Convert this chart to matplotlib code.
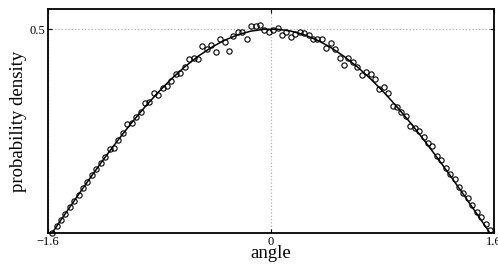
import numpy as np
import matplotlib
matplotlib.use("Agg")
import matplotlib.pyplot as plt

# measured samples (open circles), 100 angles evenly spaced over [-pi/2, pi/2]
sample_y = [
    0.000, 0.016, 0.032, 0.047, 0.064, 0.079, 0.094, 0.111, 0.125, 0.141,
    0.156, 0.171, 0.186, 0.205, 0.208, 0.229, 0.244, 0.267, 0.269, 0.284,
    0.297, 0.319, 0.321, 0.342, 0.338, 0.355, 0.361, 0.373, 0.390, 0.393,
    0.406, 0.426, 0.428, 0.426, 0.458, 0.450, 0.460, 0.443, 0.475, 0.467,
    0.447, 0.483, 0.492, 0.492, 0.476, 0.507, 0.507, 0.510, 0.498, 0.492,
    0.497, 0.503, 0.485, 0.492, 0.480, 0.487, 0.492, 0.490, 0.486, 0.476,
    0.475, 0.476, 0.454, 0.465, 0.450, 0.428, 0.412, 0.428, 0.420, 0.406,
    0.387, 0.395, 0.390, 0.377, 0.353, 0.357, 0.342, 0.311, 0.308, 0.297,
    0.287, 0.262, 0.257, 0.250, 0.236, 0.220, 0.213, 0.189, 0.179, 0.159,
    0.145, 0.132, 0.112, 0.097, 0.085, 0.069, 0.052, 0.040, 0.022, 0.007,
]
sample_x = np.linspace(-np.pi / 2, np.pi / 2, len(sample_y))

# smooth density curve
curve_y = [
    0.0, 0.0475, 0.0946, 0.1409, 0.1858, 0.2290, 0.2703, 0.3091, 0.3450,
    0.3779, 0.4073, 0.4330, 0.4548, 0.4725, 0.4859, 0.4949, 0.4994,
    0.4994, 0.4949, 0.4859, 0.4725, 0.4548, 0.4330, 0.4073, 0.3779,
    0.3450, 0.3091, 0.2703, 0.2290, 0.1858, 0.1409, 0.0946, 0.0475, 0.0,
]
curve_x = np.linspace(-np.pi / 2, np.pi / 2, len(curve_y))

x_ticks = [-1.6, 0, 1.6]
x_tick_labels = ["\u22121.6", "0", "1.6"]
y_ticks = [0.5]
y_tick_labels = ["0.5"]

plt.rcParams["font.family"] = ["Liberation Serif", "DejaVu Serif"]

fig = plt.figure(figsize=(4.98, 2.65), dpi=100)
ax = fig.add_axes([0.0964, 0.1208, 0.8956, 0.8452])

ax.plot(curve_x, curve_y, "k-", linewidth=1.1, zorder=3)
ax.plot(sample_x, sample_y, "o", markerfacecolor="none", markeredgecolor="black",
        markersize=3.8, markeredgewidth=0.8, zorder=4, clip_on=False)

ax.set_xlim(-1.6, 1.6)
ax.set_ylim(0, 0.549)
ax.set_xticks(x_ticks)
ax.set_xticklabels(x_tick_labels)
ax.set_yticks(y_ticks)
ax.set_yticklabels(y_tick_labels)
ax.tick_params(direction="in", length=3, width=0.8, labelsize=9,
               top=True, right=True, pad=2)
ax.grid(True, color="#b0b0b0", linestyle=":", linewidth=0.9)

for s in ax.spines.values():
    s.set_linewidth(1.3)

ax.set_xlabel("angle", fontsize=13.5, labelpad=-2)
ax.set_ylabel("probability density", fontsize=13.5, labelpad=2)

fig.savefig("out.png", dpi=100)
